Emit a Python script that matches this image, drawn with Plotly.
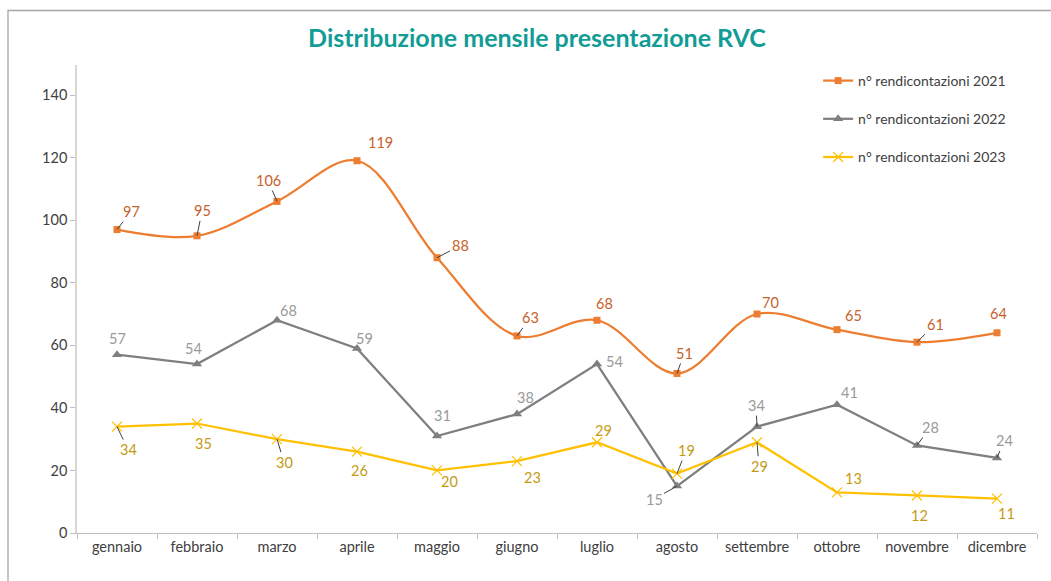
import plotly.graph_objects as go

months = ["gennaio", "febbraio", "marzo", "aprile", "maggio", "giugno",
          "luglio", "agosto", "settembre", "ottobre", "novembre", "dicembre"]
names = ["n° rendicontazioni 2021", "n° rendicontazioni 2022", "n° rendicontazioni 2023"]
v2021 = [97, 95, 106, 119, 88, 63, 68, 51, 70, 65, 61, 64]
v2022 = [57, 54, 68, 59, 31, 38, 54, 15, 34, 41, 28, 24]
v2023 = [34, 35, 30, 26, 20, 23, 29, 19, 29, 13, 12, 11]
y_ticks = [0, 20, 40, 60, 80, 100, 120, 140]

# label layout (pixel offsets of each data label from its point, and leader line flag)
off2021 = [(14, -18), (5, -25), (-9, -21), (23, -18), (23, -12), (13, -18),
           (7, -17), (7, -20), (13, -12), (16, -14), (18, -18), (1, -19)]
lead2021 = [1, 1, 1, 0, 1, 1, 0, 1, 0, 0, 1, 0]
off2022 = [(0, -16), (-4, -16), (11, -10), (7, -10), (5, -21), (8, -17),
           (17, -3), (-23, 13), (-1, -21), (12, -12), (13, -18), (7, -17)]
lead2022 = [0, 0, 0, 0, 0, 0, 0, 1, 1, 0, 1, 1]
off2023 = [(11, 23), (6, 20), (7, 23), (2, 19), (12, 11), (15, 16),
           (6, -12), (9, -23), (2, 24), (16, -14), (2, 20), (9, 15)]
lead2023 = [1, 0, 1, 0, 0, 0, 0, 1, 1, 0, 0, 0]

FONT = "Lato, 'Liberation Sans', sans-serif"
line_colors = ["#ED7D31", "#7F7F7F", "#FFC000"]
label_colors = ["#C6622A", "#9A9A9A", "#C49A12"]

fig = go.Figure()
fig.add_trace(go.Scatter(
    x=months, y=v2021, name=names[0], mode="lines+markers",
    line=dict(color=line_colors[0], width=2.25, shape="spline", smoothing=1.0),
    marker=dict(symbol="square", size=7, color=line_colors[0]),
    legendgroup="a"))
fig.add_trace(go.Scatter(
    x=months, y=v2022, name=names[1], mode="lines+markers",
    line=dict(color=line_colors[1], width=2.25),
    marker=dict(symbol="triangle-up", size=9, color=line_colors[1]),
    legendgroup="b"))
fig.add_trace(go.Scatter(
    x=months, y=v2023, name=names[2], mode="lines+markers",
    line=dict(color=line_colors[2], width=2.25),
    marker=dict(symbol="x-thin", size=10, line=dict(width=1.2, color=line_colors[2])),
    legendgroup="c"))

annotations = []
for vals, offs, leads, col in [(v2021, off2021, lead2021, label_colors[0]),
                               (v2022, off2022, lead2022, label_colors[1]),
                               (v2023, off2023, lead2023, label_colors[2])]:
    for m, v, (dx, dy), ld in zip(months, vals, offs, leads):
        annotations.append(dict(
            x=m, y=v, xref="x", yref="y", text=str(v),
            showarrow=True, arrowhead=0, arrowwidth=1,
            arrowcolor="#404040" if ld else "rgba(0,0,0,0)",
            ax=dx, ay=dy, standoff=0, startstandoff=0,
            font=dict(family=FONT, size=14.5, color=col)))

fig.update_layout(
    width=1051, height=581,
    margin=dict(l=77, r=14, t=65, b=48),
    paper_bgcolor="white", plot_bgcolor="white",
    font=dict(family=FONT, size=13, color="#404040"),
    title=dict(text="<b>Distribuzione mensile presentazione RVC</b>",
               x=537 / 1051, xanchor="center", y=1 - 38 / 581, yanchor="middle",
               font=dict(family=FONT, size=25, color="#119C96")),
    xaxis=dict(type="category", range=[-0.5, 11.5], showline=True,
               linecolor="#BFBFBF", linewidth=1.3, ticks="outside",
               tickson="boundaries", ticklen=5, tickcolor="#BFBFBF",
               showgrid=False, zeroline=False,
               tickfont=dict(family=FONT, size=14.5, color="#404040")),
    yaxis=dict(range=[0, 149.6], tickvals=y_ticks, showline=True,
               linecolor="#D6D6D6", linewidth=1.5, ticks="outside",
               ticklen=5, tickcolor="#BFBFBF", showgrid=False, zeroline=False,
               tickfont=dict(family=FONT, size=14.5, color="#404040")),
    legend=dict(x=0.772, y=1.0, xanchor="left", yanchor="top",
                bgcolor="rgba(0,0,0,0)", tracegroupgap=17, itemwidth=30,
                font=dict(family=FONT, size=14, color="#404040")),
    annotations=annotations,
    shapes=[dict(type="rect", xref="paper", yref="paper",
                 x0=(8 - 77) / 960, x1=1.2, y0=-0.3, y1=(533 - 10.5) / 468,
                 line=dict(color="#A6A6A6", width=1.3), layer="below")],
)

fig.write_html("out.html", config={"displayModeBar": False},
               post_script="document.body.style.margin='0';document.body.style.overflow='hidden';")
